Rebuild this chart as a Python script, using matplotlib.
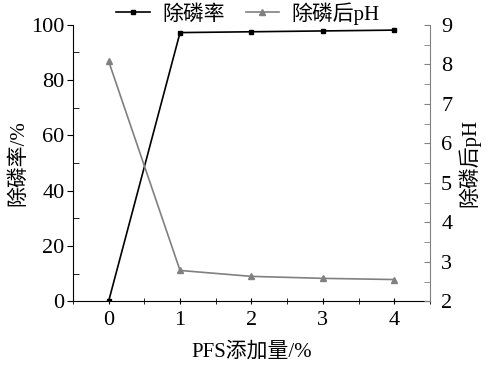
import matplotlib
matplotlib.use("Agg")
import matplotlib.pyplot as plt
from matplotlib.ticker import MultipleLocator

plt.rcParams['font.family'] = ['Liberation Serif', 'Noto Sans CJK SC']
plt.rcParams['font.size'] = 12

# 数据
pfs = [0, 1, 2, 3, 4]
removal = [0, 97.2, 97.5, 97.8, 98.1]
ph_after = [8.08, 2.78, 2.63, 2.58, 2.55]

fig = plt.figure(figsize=(4.96, 3.71), dpi=100)
ax = fig.add_axes([0.147, 0.188, 0.72, 0.745])
ax2 = ax.twinx()

l1, = ax.plot(pfs, removal, color="black", marker="s", markersize=3.5, lw=1.2, label="除磷率")
l2, = ax2.plot(pfs, ph_after, color="#808080", marker="^", markersize=4, lw=1.2, label="除磷后pH")

ax.set_xlim(-0.5, 4.5)
ax.set_ylim(0, 100)
ax2.set_ylim(2, 9)
ax.set_xticks(pfs)
ax.xaxis.set_minor_locator(MultipleLocator(0.5))
ax.yaxis.set_major_locator(MultipleLocator(20))
ax.yaxis.set_minor_locator(MultipleLocator(10))
ax2.yaxis.set_major_locator(MultipleLocator(1))
ax2.yaxis.set_minor_locator(MultipleLocator(0.5))

ax.tick_params(axis="x", which="both", direction="inout", length=4, labelsize=16, pad=5)
ax.tick_params(axis="y", which="major", direction="out", length=4, labelsize=16, pad=2)
ax.tick_params(axis="y", which="minor", direction="in", length=4)
ax2.tick_params(axis="y", which="both", direction="in", length=4, labelsize=16, pad=8, color="#808080")

for a in (ax, ax2):
    a.spines["top"].set_visible(False)
ax.spines["right"].set_visible(False)
ax2.spines["left"].set_visible(False)
ax2.spines["bottom"].set_visible(False)
ax2.spines["right"].set_color("#808080")

ax.set_xlabel("PFS添加量/%", fontsize=15, labelpad=9)
ax.set_ylabel("除磷率/%", fontsize=15, labelpad=2)
ax2.set_ylabel("除磷后pH", fontsize=15, labelpad=4)

fig.legend(handles=[l1, l2], loc="upper center", bbox_to_anchor=(0.5, 1.045), ncol=2,
           frameon=False, fontsize=15, handlelength=1.6, columnspacing=1.0, handletextpad=0.6)

plt.savefig("out.png", dpi=100)
